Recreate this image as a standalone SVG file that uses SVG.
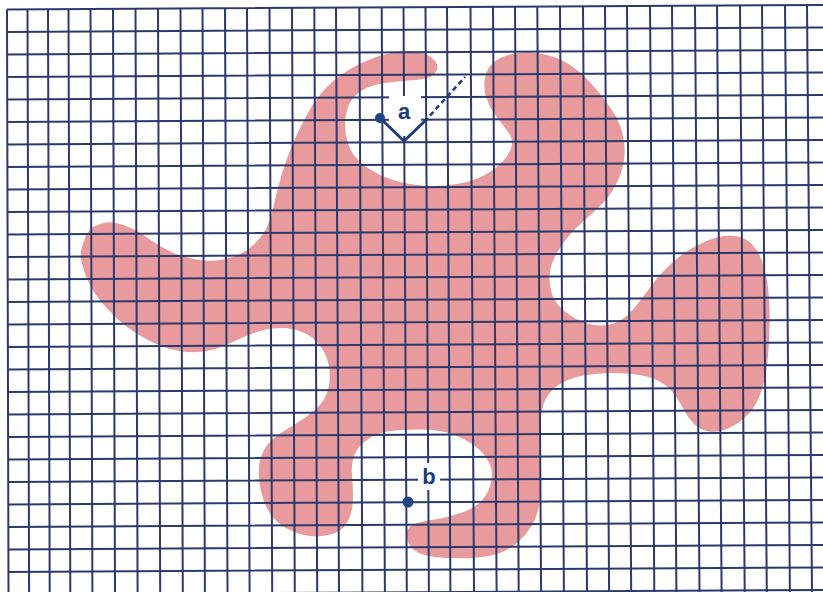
<svg xmlns="http://www.w3.org/2000/svg" width="823" height="592" viewBox="0 0 823 592">
<style>
.grid{stroke:#2c3a6b;stroke-width:2;fill:none}
.mark{stroke:#1f3b7a;stroke-width:3;fill:none;stroke-linecap:round;stroke-linejoin:round}
.dash{stroke:#1f3b7a;stroke-width:2.5;fill:none;stroke-dasharray:5 3.5}
.dot{fill:#1f4486}
.lbl{font-family:"Liberation Sans",Arial,sans-serif;font-weight:bold;font-size:22px;fill:#1f3b7a;text-anchor:middle}
.ko{fill:#ffffff}
</style>
<rect width="823" height="592" fill="#ffffff"/>
<g id="blob">
<path fill="#e89a9c" d="M84.5,240 Q87,228 100,224 Q110,220 123.5,225 Q137,230 148.5,238.5 Q160,247 171.5,252 Q183,257 196.5,259.5 Q210,262 223.5,259.5 Q237,257 247,250 Q257,243 263.5,233 Q270,223 273.5,206.5 Q277,190 282,173.5 Q287,157 293.5,142 Q300,127 308.5,112 Q317,97 327,87 Q337,77 348.5,70 Q360,63 373.5,58 Q387,53 400,51.5 Q413,50 421.5,52.5 Q430,55 435,61 Q440,67 435,73 Q430,79 415,80 Q400,81 385,83 Q370,85 361,91 Q352,97 348.5,106 Q345,115 345,125 Q345,135 348.5,145 Q352,155 362,163.5 Q372,172 386,177.5 Q400,183 416.5,185 Q433,187 450,185 Q467,183 478.5,178 Q490,173 499,165 Q508,157 511,148.5 Q514,140 508.5,132.5 Q503,125 496.5,116.5 Q490,108 486.5,98 Q483,88 485,78 Q487,68 493.5,62.5 Q500,57 510,54.5 Q520,52 531,52.5 Q542,53 552.5,56.5 Q563,60 573,67 Q583,74 593,85.5 Q603,97 611,108.5 Q619,120 622.5,133.5 Q626,147 624,160 Q622,173 616,184.5 Q610,196 601.5,204.5 Q593,213 583,221.5 Q573,230 565.5,240 Q558,250 554,258.5 Q550,267 549.5,276 Q549,285 552,294 Q555,303 565,311.5 Q575,320 587.5,323.5 Q600,327 610,324.5 Q620,322 627.5,315 Q635,308 641.5,299 Q648,290 655,281 Q662,272 672.5,262.5 Q683,253 695,246.5 Q707,240 718.5,237 Q730,234 740,237 Q750,240 756.5,250 Q763,260 766,275 Q769,290 769.5,307.5 Q770,325 768.5,349 Q767,373 762,389 Q757,405 748.5,414 Q740,423 729,428 Q718,433 709,431.5 Q700,430 694,424 Q688,418 684,410 Q680,402 674.5,394.5 Q669,387 660.5,382 Q652,377 639.5,375 Q627,373 613.5,373 Q600,373 586.5,375 Q573,377 563.5,382 Q554,387 548.5,394.5 Q543,402 541.5,413.5 Q540,425 540,441 Q540,457 541,473.5 Q542,490 539.5,503.5 Q537,517 531.5,526 Q526,535 518,542 Q510,549 500,553 Q490,557 470,558 Q450,559 435,557 Q420,555 414,550 Q408,545 407,538 Q406,531 409.5,527 Q413,523 431.5,520 Q450,517 463.5,512 Q477,507 483.5,498.5 Q490,490 491.5,480 Q493,470 488.5,461.5 Q484,453 475.5,446.5 Q467,440 455,435 Q443,430 423,429.5 Q403,429 390,431 Q377,433 367.5,439.5 Q358,446 354.5,454.5 Q351,463 352,474 Q353,485 353,497.5 Q353,510 348.5,520 Q344,530 332,534 Q320,538 306.5,535.5 Q293,533 282,525.5 Q271,518 265.5,505 Q260,492 259,477.5 Q258,463 262.5,453 Q267,443 276,436.5 Q285,430 296,423.5 Q307,417 315,410 Q323,403 327,393 Q331,383 329.5,370 Q328,357 321,347 Q314,337 303.5,332.5 Q293,328 281.5,328 Q270,328 261.5,330.5 Q253,333 245,336.5 Q237,340 226,345 Q215,350 204,351.5 Q193,353 181.5,351.5 Q170,350 158.5,345 Q147,340 136.5,333.5 Q126,327 117,318.5 Q108,310 100.5,301 Q93,292 88.5,282 Q84,272 81.5,262 Q79,252 84.5,240 Z"/>
</g>
<g id="grid" class="grid">
<path d="M7,9.5L8.5,592 M27.5,9.4L29.1,592 M48,9.3L49.7,592 M68.5,9.2L70.3,592 M90.5,9L92.4,592 M113,8.9L115,592 M135.5,8.8L137.6,592 M158,8.7L160.2,592 M180.5,8.5L182.8,592 M202.5,8.4L204.9,592 M225,8.3L227.5,592 M247,8.2L249.6,592 M269.5,8L272.2,592 M292,7.9L294.8,592 M314.3,7.8L317.2,592 M336,7.7L339,592 M359.3,7.5L362.4,592 M381.7,7.4L384.9,592 M403.5,7.3L406.8,592 M425.5,7.2L428.9,592 M447,7L450.4,592 M470.5,6.9L474,592 M493,6.8L496.6,592 M515,6.7L518.7,592 M537.3,6.5L541.1,592 M560,6.4L563.9,592 M583,6.3L587,592 M605,6.2L609.1,592 M627,6L631.2,592 M650,5.9L654.3,592 M672,5.8L676.4,592 M695,5.7L699.5,592 M717,5.5L721.6,592 M740,5.4L744.7,592 M762,5.3L766.8,592 M785,5.1L789.9,592 M807,5L812,592"/>
<path d="M7,9.5L823,4.9 M7.1,32L823,27.4 M7.1,54.5L823,49.9 M7.2,77L823,72.4 M7.2,99.5L823,94.9 M7.3,122L823,117.4 M7.3,144.5L823,139.9 M7.4,167L823,162.4 M7.5,189.5L823,184.9 M7.5,212L823,207.4 M7.6,234.5L823,229.9 M7.6,257L823,252.4 M7.7,279.5L823,274.9 M7.8,302L823,297.4 M7.8,324.5L823,319.9 M7.9,347L823,342.4 M7.9,369.5L823,364.9 M8,392L823,387.4 M8,414.5L823,409.9 M8.1,437L823,432.4 M8.2,459.5L823,454.9 M8.2,482L823,477.4 M8.3,504.5L823,499.9 M8.3,527L823,522.4 M8.4,549.5L823,544.9 M8.5,572L823,567.4 M8.5,594.5L823,589.9"/>
</g>
<g id="point-a">
<rect class="ko" x="389" y="96" width="32" height="40"/>
<polyline class="mark" points="380,118 404,141 427,119"/>
<line class="dash" x1="430" y1="115.5" x2="465" y2="77"/>
<circle class="dot" cx="380" cy="118" r="5"/>
<text class="lbl" x="404" y="119">a</text>
</g>
<g id="point-b">
<rect class="ko" x="418" y="463" width="22" height="27"/>
<circle class="dot" cx="408" cy="502" r="5.5"/>
<text class="lbl" x="429" y="484">b</text>
</g>
</svg>
